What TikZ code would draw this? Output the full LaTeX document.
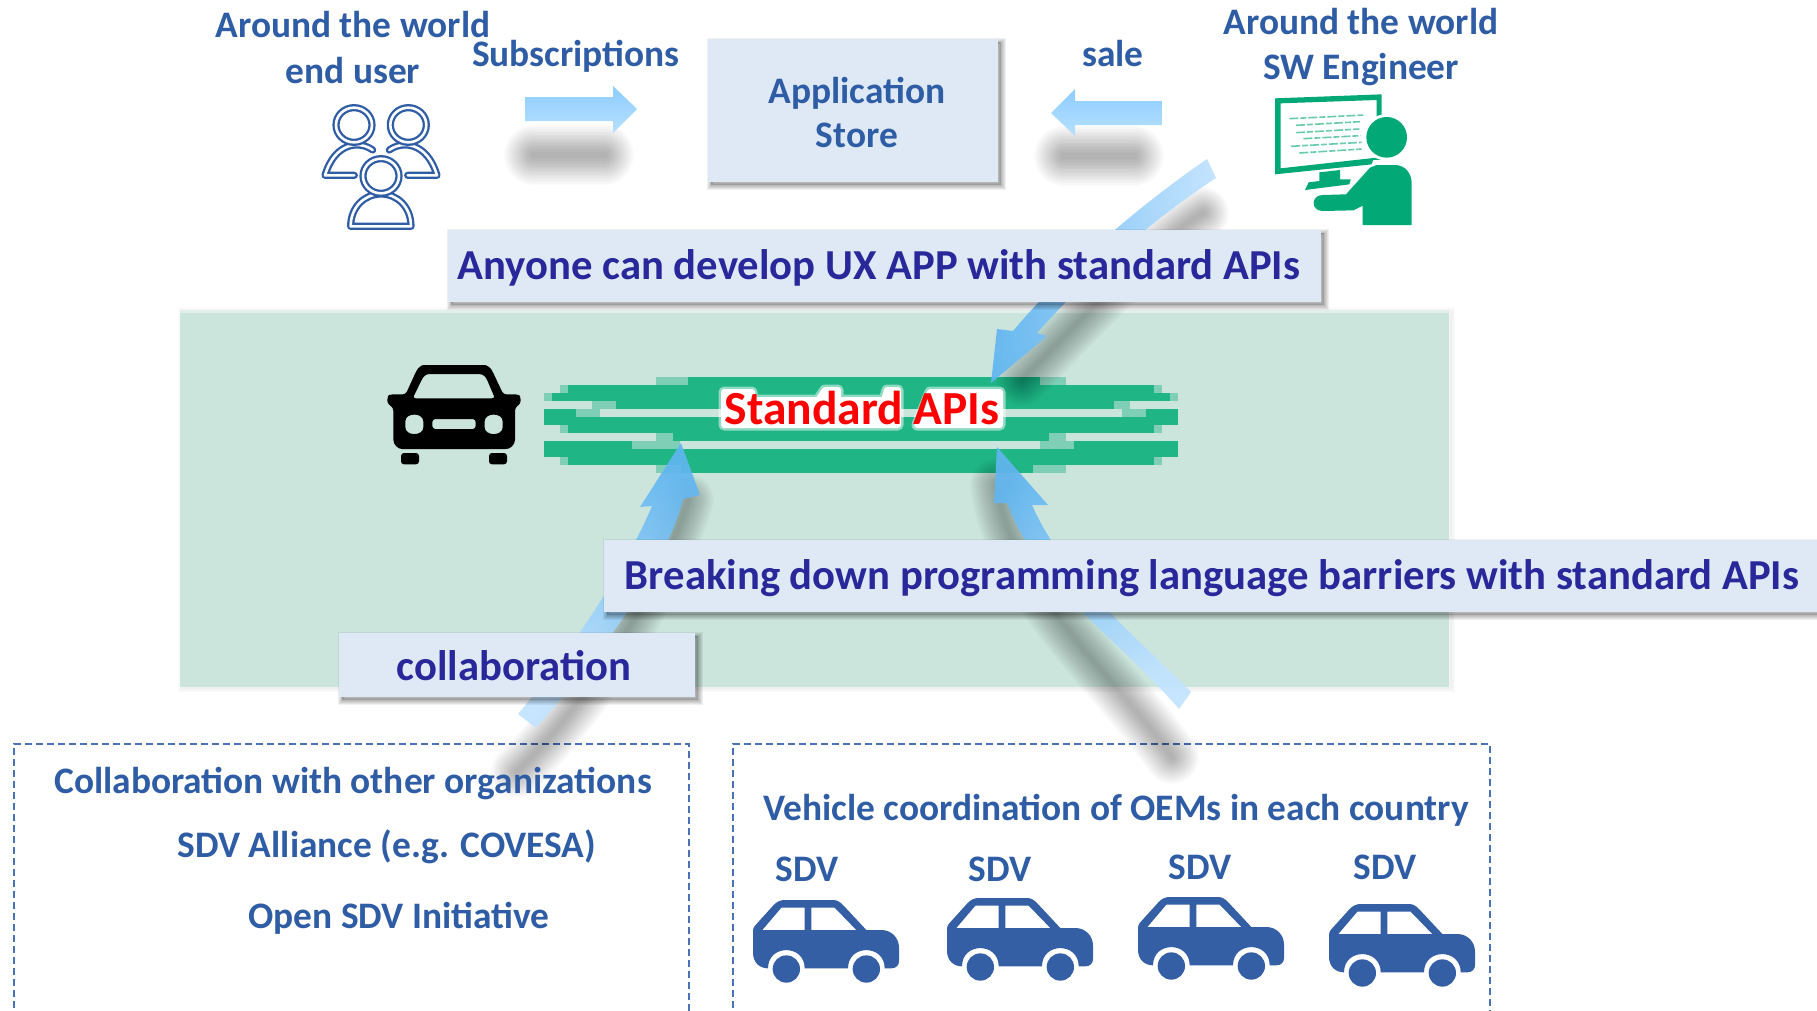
\documentclass[tikz,border=0pt]{standalone}
\usepackage{fontspec}
\setmainfont{Carlito}
\definecolor{lblue}{HTML}{2F5DA5}
\definecolor{dblue}{HTML}{28289A}
\definecolor{boxfill}{HTML}{DEE9F5}
\definecolor{panel}{HTML}{CBE5DD}
\definecolor{stripe}{HTML}{1FB585}
\definecolor{stripesoft}{HTML}{7FCFB6}
\definecolor{carblue}{HTML}{345FA5}
\definecolor{eng}{HTML}{02A876}
\definecolor{arrtop}{HTML}{8CCDFF}
\definecolor{arrbot}{HTML}{B8E0FF}
\definecolor{arrhead}{HTML}{62B6F0}
\definecolor{arrmid}{HTML}{9AD1FB}
\definecolor{arrtail}{HTML}{C2E3FF}
\definecolor{dashc}{HTML}{4A72B8}
\newcommand\softline[3]{%
  \foreach \k in {0,...,19}{%
    \pgfmathsetmacro\wd{#2+(#3-#2)*\k/19}%
    \draw[black,draw opacity=0.014,line cap=round,line width=\wd pt] #1;
  }}
\newcommand\softbox[4]{%
  \foreach \w in {9,7,5,3,1}{%
    \draw[black,draw opacity=0.06,line width=\w pt] (#1+3,#2+3) rectangle (#3+3,#4+3);
  }
  \fill[black,fill opacity=0.2] (#1+3,#2+3) rectangle (#3+3,#4+3);}
\tikzset{
  lbl/.style={anchor=base,inner sep=0pt,text=lblue,font=\bfseries\fontsize{37.4}{40}\selectfont},
  boxtxt/.style={anchor=base,inner sep=0pt,text=dblue,font=\bfseries\fontsize{42.7}{45}\selectfont},
  card/.style={rectangle,fill=boxfill,draw=none,inner sep=0pt,anchor=north west},
  dashbox/.style={draw=dashc,line width=1.3pt,dash pattern=on 7pt off 4pt},
  peopleline/.style={draw=lblue,line width=2.3pt,double=white,double distance=2.6pt,line cap=round,line join=round},
  bluecar/.pic={
    \begin{scope}[shift={(-40,-27)}]
    \fill[carblue,even odd rule]
      (85,232) .. controls (85,159) and (195,159) .. (195,232) -- (325,232)
      .. controls (325,159) and (435,159) .. (435,232) -- (455,232)
      .. controls (470,232) and (478,222) .. (478,210) -- (478,170)
      .. controls (478,140) and (455,117) .. (425,117) -- (380,117)
      -- (310,42) .. controls (300,32) and (292,27) .. (280,27) -- (135,27)
      .. controls (122,27) and (112,32) .. (102,42) -- (45,105)
      .. controls (41,110) and (40,115) .. (40,122) -- (40,185)
      .. controls (40,215) and (60,232) .. (85,232) -- cycle
      (68,117) -- (125,50) -- (195,50) -- (195,117) -- cycle
      (215,50) -- (285,50) -- (350,117) -- (215,117) -- cycle;
    \fill[carblue] (140,234) ellipse [x radius=41,y radius=41];
    \fill[carblue] (380,234) ellipse [x radius=41,y radius=41];
    \end{scope}
  }
}
\begin{document}
\begin{tikzpicture}[x=1pt,y=-1pt]
\useasboundingbox (0,0) rectangle (1817,1010);
\clip (0,0) rectangle (1817,1010);
\fill[white] (0,0) rectangle (1817,1010);

% green panel
\foreach \w in {8,5,2}{\draw[black,draw opacity=0.02,line width=\w pt] (182,311) rectangle (1451,688);}
\node[rectangle,fill=panel,inner sep=0pt,minimum width=1269pt,minimum height=377pt,anchor=north west] (panelbox) at (180,310) {};
\fill[white,fill opacity=0.45] (180,310) rectangle (1449,313);

% standard API stripes
\foreach \a/\b/\y in {656/1066/377,560/1162/385,544/1178/393,592/1130/401,544/600/409,1122/1178/409,560/1162/425,656/1066/433,544/680/441,1040/1178/441,560/1162/457,656/1066/465}{
  \fill[stripesoft] (\a,\y) rectangle (\b,\y+8);}
\foreach \a/\b/\y in {688/1040/377,568/1154/385,552/1170/393,616/1114/401,544/576/409,1146/1178/409,544/1178/417,568/1154/425,673/1049/433,544/632/441,1074/1178/441,544/1178/449,568/1154/457,681/1033/465}{
  \fill[stripe] (\a,\y) rectangle (\b,\y+8);}

% dashed frames
\draw[dashbox] (14,1030) -- (14,744) -- (689,744) -- (689,1030);
\draw[dashbox] (733,1030) -- (733,744) -- (1490,744) -- (1490,1030);

% soft shadows of arrows
\softline{(534,155) -- (604,155)}{6}{60}
\softline{(1064,156) -- (1134,156)}{6}{60}
\softline{(1203,213) .. controls (1150,245) and (1080,320) .. (1022,380)}{4}{52}
\softline{(517,772) .. controls (590,700) and (660,590) .. (688,500)}{4}{52}
\softline{(1172,757) .. controls (1110,670) and (1010,590) .. (997,485)}{4}{54}

% arrows
\shade[top color=arrtop,bottom color=arrbot]
  (525,97) -- (613,97) -- (613,86) -- (637,109) -- (613,133) -- (613,121) -- (525,121) -- cycle;
\shade[top color=arrtop,bottom color=arrbot]
  (1162,101) -- (1075,101) -- (1075,89) -- (1051,113) -- (1075,136) -- (1075,125) -- (1162,125) -- cycle;
\shade[left color=arrhead,middle color=arrmid,right color=arrtail,fill opacity=0.95]
  (1207,159) .. controls (1150,198) and (1070,263) .. (1013,331) -- (997,329) -- (991,383)
  -- (1047,336) -- (1037,333) .. controls (1100,262) and (1170,208) .. (1216,178) -- cycle;
\shade[top color=arrhead,bottom color=arrtail,shading angle=-25,fill opacity=0.92]
  (518,714) .. controls (570,652) and (625,570) .. (652,506) -- (640,507) -- (681,443)
  -- (700,495) -- (683,499) .. controls (668,560) and (610,645) .. (536,728) -- cycle;
\shade[top color=arrhead,bottom color=arrtail,shading angle=30,fill opacity=0.92]
  (1191,692) .. controls (1140,640) and (1065,580) .. (1032,505) -- (1048,505) -- (997,447)
  -- (994,503) -- (1007,503) .. controls (1040,590) and (1120,640) .. (1179,709) -- cycle;

% cards
\softbox{708}{39}{998}{182}
\node[card,minimum width=290pt,minimum height=143pt] (storebox) at (708,39) {};
\softbox{448}{230}{1321}{302}
\node[card,minimum width=873pt,minimum height=72pt] (uxbox) at (448,230) {};
\softbox{604}{540}{1830}{612}
\node[card,minimum width=1226pt,minimum height=72pt] (langbox) at (604,540) {};
\softbox{339}{633}{695}{697}
\node[card,minimum width=356pt,minimum height=64pt] (collabbox) at (339,633) {};

% labels
\node[lbl] (worlda) at (353,37) {Around the world};
\node[lbl] (enduser) at (353,83) {end user};
\node[lbl] (subs) at (576,66) {Subscriptions};
\node[lbl] (appl) at (857,103) {Application};
\node[lbl] (store) at (857,147) {Store};
\node[lbl] (sale) at (1113,66) {sale};
\node[lbl] (worldb) at (1361,34) {Around the world};
\node[lbl] (sweng) at (1361,79) {SW Engineer};
\node[boxtxt] (uxtext) at (879,279) {Anyone can develop UX APP with standard APIs};
\node[boxtxt] (langtext) at (1212,589) {Breaking down programming language barriers with standard APIs};
\node[boxtxt] (collabtext) at (514,680) {collaboration};
% white halo of the title, following the outline of its words
\fill[white,fill opacity=0.5,draw=white,draw opacity=0.5,line width=11pt,line join=round]
  (724,392) -- (752,392) -- (752,400) -- (818,400) -- (825,390) -- (838,390) -- (838,400)
  -- (884,400) -- (887,390) -- (898,390) -- (898,425) -- (724,425) -- cycle;
\fill[white,fill opacity=0.5,draw=white,draw opacity=0.5,line width=11pt,line join=round]
  (917,425) -- (930,392) -- (1000,392) -- (1000,425) -- cycle;
\fill[white,draw=white,line width=6pt,line join=round]
  (724,392) -- (752,392) -- (752,400) -- (818,400) -- (825,390) -- (838,390) -- (838,400)
  -- (884,400) -- (887,390) -- (898,390) -- (898,425) -- (724,425) -- cycle;
\fill[white,draw=white,line width=6pt,line join=round]
  (917,425) -- (930,392) -- (1000,392) -- (1000,425) -- cycle;
\node[anchor=base,inner sep=0pt,text=red,font=\bfseries\fontsize{47.5}{50}\selectfont] (apis) at (862,424) {Standard APIs};
\node[lbl] (orgs) at (353,793) {Collaboration with other organizations};
\node[lbl] (alliance) at (387,857) {SDV Alliance (e.g. COVESA)};
\node[lbl] (opensdv) at (399,928) {Open SDV Initiative};
\node[lbl] (oems) at (1116,820) {Vehicle coordination of OEMs in each country};
\node[lbl] (sdva) at (807,881) {SDV};
\node[lbl] (sdvb) at (1000,881) {SDV};
\node[lbl] (sdvc) at (1200,879) {SDV};
\node[lbl] (sdvd) at (1385,879) {SDV};

% blue cars
\pic[scale=1/3] at (753,900) {bluecar};
\pic[scale=1/3] at (947,898) {bluecar};
\pic[scale=1/3] at (1138,897) {bluecar};
\pic[scale=1/3] at (1329,904) {bluecar};

% black car
\begin{scope}[shift={(375,355)},scale=1/3]
  \fill[black,even odd rule,rounded corners=3pt]
    (92,118) -- (122,52) .. controls (130,38) and (140,30) .. (155,30) -- (320,30)
    .. controls (335,30) and (346,38) .. (354,52) -- (385,118) -- (430,118) -- (437,125) -- (437,146) -- (420,158)
    -- (420,245) .. controls (420,270) and (405,282) .. (385,282) -- (90,282)
    .. controls (70,282) and (55,270) .. (55,245) -- (55,158) -- (37,146) -- (37,125) -- (44,118) -- cycle
    (113,130) -- (145,65) -- (155,57) -- (320,57) -- (332,65) -- (360,130) -- cycle
    (172,192) -- (302,192) -- (302,222) -- (172,222) -- cycle
    (145,208) .. controls (145,172) and (91,172) .. (91,208) .. controls (91,244) and (145,244) .. (145,208) -- cycle
    (383,208) .. controls (383,172) and (329,172) .. (329,208) .. controls (329,244) and (383,244) .. (383,208) -- cycle;
  \fill[black,rounded corners=3pt] (78,294) -- (132,294) -- (132,328) -- (78,328) -- cycle;
  \fill[black,rounded corners=3pt] (342,294) -- (396,294) -- (396,328) -- (342,328) -- cycle;
\end{scope}

% people
\begin{scope}[shift={(310,100)},scale=1/3]
  \draw[peopleline] (188,150) .. controls (150,122) and (75,125) .. (45,226) -- (133,226);
  \draw[peopleline] (238,150) .. controls (276,122) and (351,125) .. (381,226) -- (293,226);
  \draw[peopleline,fill=white] (132,75) ellipse [x radius=54,y radius=52];
  \draw[peopleline,fill=white] (295,75) ellipse [x radius=54,y radius=52];
  \draw[peopleline,fill=white] (122,379) .. controls (122,320) and (165,282) .. (213,282)
     .. controls (261,282) and (303,320) .. (303,379) -- cycle;
  \draw[peopleline,fill=white] (213,228) ellipse [x radius=54,y radius=52];
\end{scope}

% engineer
\begin{scope}[shift={(1260,85)},scale=1/3]
  \fill[eng] (178,262) -- (240,255) -- (240,283) -- (272,283) -- (268,298) -- (135,315) -- (146,292) -- (178,288) -- cycle;
  \fill[eng,even odd rule] (45,40) -- (365,28) -- (365,235) -- (45,268) -- cycle
     (62,55) -- (350,45) -- (350,218) -- (62,250) -- cycle;
  \fill[white] (380,157) circle [radius=70];
  \fill[eng] (380,157) circle [radius=61];
  \fill[white] (340,225) -- (370,225) -- (370,240) -- (330,250) -- cycle;
  \fill[eng] (350,240) -- (405,240) .. controls (435,240) and (455,265) .. (455,295) -- (455,420) -- (308,420) -- (308,362)
     -- (280,376) -- (188,378) .. controls (152,378) and (152,330) .. (188,330) -- (258,328) -- (330,248) -- cycle;
  \foreach \a/\b/\c/\d in {88/101/315/90,108/121/300/110,108/143/298/132,130/161/302/152,93/184/305/172,118/204/305/192}{
    \draw[eng!60!white,line width=1.6pt,dash pattern=on 9pt off 2pt on 6pt off 2pt] (\a,\b) -- (\c,\d);
  }
\end{scope}
\end{tikzpicture}
\end{document}
